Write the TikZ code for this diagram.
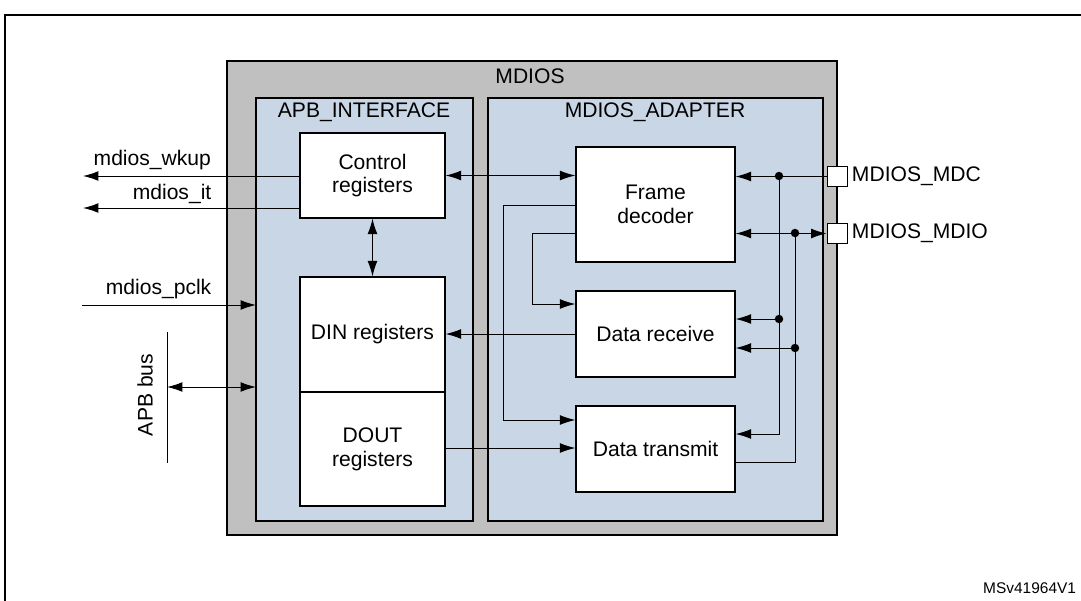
\documentclass[tikz,border=0pt]{standalone}
\usepackage{fontspec}
\setmainfont{Liberation Sans}
\usetikzlibrary{arrows.meta}
\definecolor{chipgray}{RGB}{192,192,192}
\definecolor{blockblue}{RGB}{200,214,229}
\tikzset{
	blk/.style={shape=rectangle,draw=black,fill=white,line width=0.9pt,align=center,inner sep=0pt},
	area/.style={draw=black,line width=0.9pt},
	sig/.style={line width=0.7pt},
	tip/.style={-{Latex[length=11pt,width=7pt]}},
	both/.style={{Latex[length=11pt,width=7pt]}-{Latex[length=11pt,width=7pt]}},
	dot/.style={circle,fill=black,inner sep=0pt,minimum size=6pt},
	pin/.style={shape=rectangle,draw=black,fill=white,line width=0.7pt,minimum width=5mm,minimum height=5.2mm,inner sep=0pt}
}
\begin{document}
\begin{tikzpicture}[x=0.25mm,y=-0.25mm,font=\fontsize{15}{17}\selectfont]
	\useasboundingbox (0,0) rectangle (1081,600);
	\draw[line width=1pt] (5,602) -- (5,15) -- (1083,15);
	
	% areas
	\draw[area,fill=chipgray] (227,61) rectangle (837,535);
	\draw[area,fill=blockblue] (256,98) rectangle (473,521);
	\draw[area,fill=blockblue] (488,98) rectangle (823,521);
	\node (mdios) at (530,76) {MDIOS};
	\node (apbif) at (364,112) {APB\_INTERFACE};
	\node (adapter) at (655,112) {MDIOS\_ADAPTER};
	
	% blocks
	\node[blk,minimum width=36.25mm,minimum height=21.25mm] (ctrl) at (372.5,175.5) {Control\\registers};
	\node[blk,minimum width=36.25mm,minimum height=28.75mm] (din) at (372.5,334.5) {DIN registers};
	\node[blk,minimum width=36.25mm,minimum height=28.5mm] (dout) at (372.5,449) {DOUT\\registers};
	\node[blk,minimum width=39.75mm,minimum height=28.75mm] (frame) at (655.5,204.5) {Frame\\decoder};
	\node[blk,minimum width=39.75mm,minimum height=21.5mm] (rx) at (655.5,334) {Data receive};
	\node[blk,minimum width=39.75mm,minimum height=21.5mm] (tx) at (655.5,449) {Data transmit};
	\node[pin] (mdc) at (837,176.5) {};
	\node[pin] (mdio) at (837,233.5) {};
	\node[anchor=west] (mdclbl) at (847,176) {MDIOS\_MDC};
	\node[anchor=west] (mdiolbl) at (847,233) {MDIOS\_MDIO};
	
	% outside signals
	\coordinate (wkup) at (83,176);
	\coordinate (it) at (83,208);
	\coordinate (pclk) at (82,305);
	\coordinate (apbif w) at (256,305);
	\coordinate (bustop) at (167,332);
	\coordinate (busbot) at (167,463);
	\coordinate (busarr) at (167,387);
	\coordinate (busin) at (256,387);
	\draw[sig,tip] (ctrl.west |- wkup) -- (wkup);
	\draw[sig,tip] (ctrl.west |- it) -- (it);
	\node[anchor=south west,inner sep=1pt] at (92,172) {mdios\_wkup};
	\node[anchor=south east,inner sep=1pt] at (213,205) {mdios\_it};
	\draw[sig,tip] (pclk) -- (apbif w);
	\node[anchor=south east,inner sep=1pt] at (213,301) {mdios\_pclk};
	\draw[sig] (bustop) -- (busbot);
	\draw[sig,both] (busarr) -- (busin);
	\node[rotate=90] (apbbus) at (145,395) {APB bus};
	
	% inside connections
	\draw[sig,both] (ctrl.east) -- (ctrl.east -| frame.west);
	\draw[sig,both] (ctrl.south) -- (din.north);
	\draw[sig,tip] (rx.west) -- (rx.west -| din.east);
	\draw[sig,tip] (dout.east |- 0,448) -- (tx.west |- 0,448);
	\draw[sig,tip] (frame.west |- 0,205) -| (503,420) -- (tx.west |- 0,420);
	\draw[sig,tip] (frame.west |- 0,233) -| (532,304) -- (rx.west |- 0,304);
	
	% pins
	\node[dot] (j1) at (779,176) {};
	\node[dot] (j2) at (779,319) {};
	\node[dot] (j3) at (795,233) {};
	\node[dot] (j4) at (795,348) {};
	\draw[sig,tip] (mdc.west) -- (frame.east |- mdc.west);
	\draw[sig,both] (frame.east |- mdio.west) -- (mdio.west);
	\draw[sig,tip] (j1.center) |- (tx.east |- 0,434);
	\draw[sig,tip] (j2.center) -- (rx.east |- j2);
	\draw[sig] (j3.center) |- (tx.east |- 0,462);
	\draw[sig,tip] (j4.center) -- (rx.east |- j4);
	
	\node[anchor=east,font=\fontsize{11}{12}\selectfont] (ref) at (1081,588) {MSv41964V1};
\end{tikzpicture}
\end{document}
